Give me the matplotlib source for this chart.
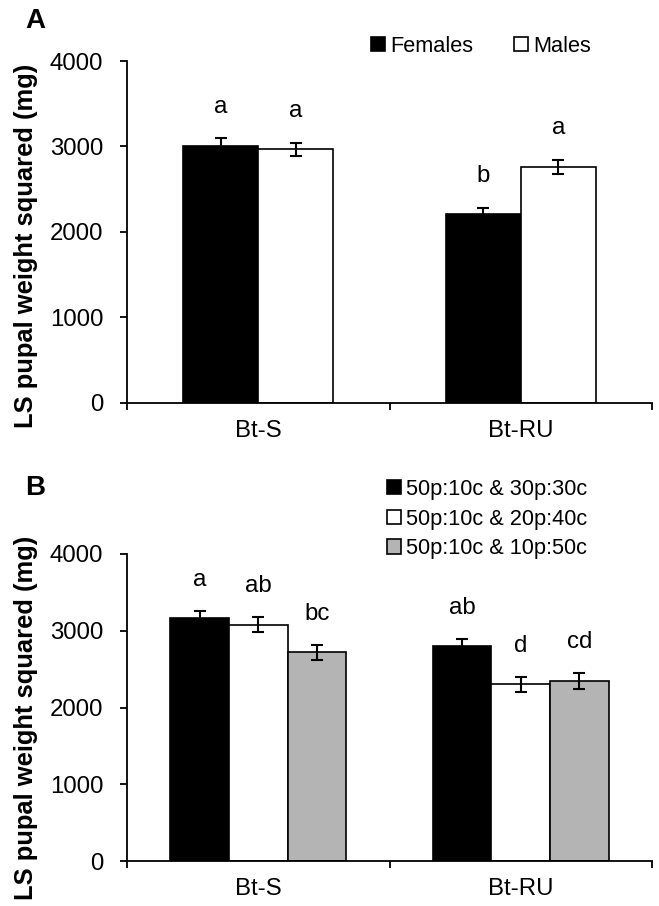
import matplotlib
matplotlib.use("Agg")
import matplotlib.pyplot as plt
from matplotlib.patches import Patch
import numpy as np

plt.rcParams['font.family'] = ['Liberation Sans', 'DejaVu Sans']

categories = ["Bt-S", "Bt-RU"]

# Panel A
a_series = ["Females", "Males"]
a_values = [[3010, 2210], [2965, 2760]]
a_errors = [[85, 70], [80, 80]]
a_letters = [["a", "b"], ["a", "a"]]
a_colors = ["black", "white"]

# Panel B
b_series = ["50p:10c & 30p:30c", "50p:10c & 20p:40c", "50p:10c & 10p:50c"]
b_values = [[3160, 2800], [3080, 2305], [2720, 2345]]
b_errors = [[100, 90], [95, 98], [97, 100]]
b_letters = [["a", "ab"], ["ab", "d"], ["bc", "cd"]]
b_colors = ["black", "white", "#b4b4b4"]

yticks = [0, 1000, 2000, 3000, 4000]
ylabel = "LS pupal weight squared (mg)"

W, H = 659, 906
fig = plt.figure(figsize=(W / 100, H / 100), dpi=100)

FS = 17.3
LFS = 15.7


def panel(rect, series, values, errors, letters, colors, width, offsets):
    ax = fig.add_axes(rect)
    x = np.arange(len(categories))
    n = len(series)
    for i in range(n):
        pos = x + (i - (n - 1) / 2) * width
        ax.bar(pos, values[i], width=width, color=colors[i], edgecolor="black",
               linewidth=1.2, zorder=2)
        ax.errorbar(pos, values[i], yerr=errors[i], fmt="none", ecolor="black",
                    elinewidth=1.5, capsize=4.5, capthick=1.5, zorder=3)
        for j in range(len(categories)):
            ax.annotate(letters[i][j], (pos[j], values[i][j] + errors[i][j]),
                        xytext=(0, offsets), textcoords="offset points",
                        ha="center", va="baseline", fontsize=FS)
    ax.set_xlim(-0.5, len(categories) - 0.5)
    ax.set_ylim(0, 4000)
    ax.set_yticks(yticks)
    ax.set_yticklabels([str(t) for t in yticks], fontsize=FS)
    ax.set_xticks(np.arange(len(categories) + 1) - 0.5)
    ax.set_xticklabels([])
    ax.set_xticks(x, minor=True)
    ax.set_xticklabels(categories, minor=True, fontsize=FS)
    ax.tick_params(axis="x", which="minor", length=0, pad=12)
    ax.tick_params(axis="x", which="major", length=5, width=1.3, direction="out")
    ax.tick_params(axis="y", length=5, width=1.3, direction="out", pad=12)
    for s in ["top", "right"]:
        ax.spines[s].set_visible(False)
    for s in ["left", "bottom"]:
        ax.spines[s].set_linewidth(1.3)
    ax.set_ylabel(ylabel, fontsize=18.4, fontweight="bold")
    return ax


axA = panel([127 / W, 1 - 403 / H, (652 - 127) / W, (403 - 61) / H],
            a_series, a_values, a_errors, a_letters, a_colors, 0.286, 18.5)
axB = panel([127 / W, 1 - 861 / H, (652 - 127) / W, (861 - 554) / H],
            b_series, b_values, b_errors, b_letters, b_colors, 0.223, 18)

axA.yaxis.set_label_coords(-0.17, 0.46)
axB.yaxis.set_label_coords(-0.17, 0.466)

hA = [Patch(facecolor=c, edgecolor="black", linewidth=1.2) for c in a_colors]
fig.legend(hA, a_series, loc="center left", bbox_to_anchor=(371 / W, 1 - 46 / H),
           ncol=2, frameon=False, fontsize=LFS, handlelength=0.62, handleheight=0.62,
           handletextpad=0.25, columnspacing=1.9, borderpad=0, borderaxespad=0)

hB = [Patch(facecolor=c, edgecolor="black", linewidth=1.2) for c in b_colors]
fig.legend(hB, b_series, loc="center left", bbox_to_anchor=(387 / W, 1 - 519 / H),
           ncol=1, frameon=False, fontsize=LFS, handlelength=0.62, handleheight=0.62,
           handletextpad=0.25, labelspacing=0.4, borderpad=0, borderaxespad=0)

fig.text(25 / W, 1 - 21 / H, "A", fontsize=20, fontweight="bold", va="center", ha="left")
fig.text(25 / W, 1 - 488 / H, "B", fontsize=20, fontweight="bold", va="center", ha="left")

fig.savefig("out.png", dpi=100)
